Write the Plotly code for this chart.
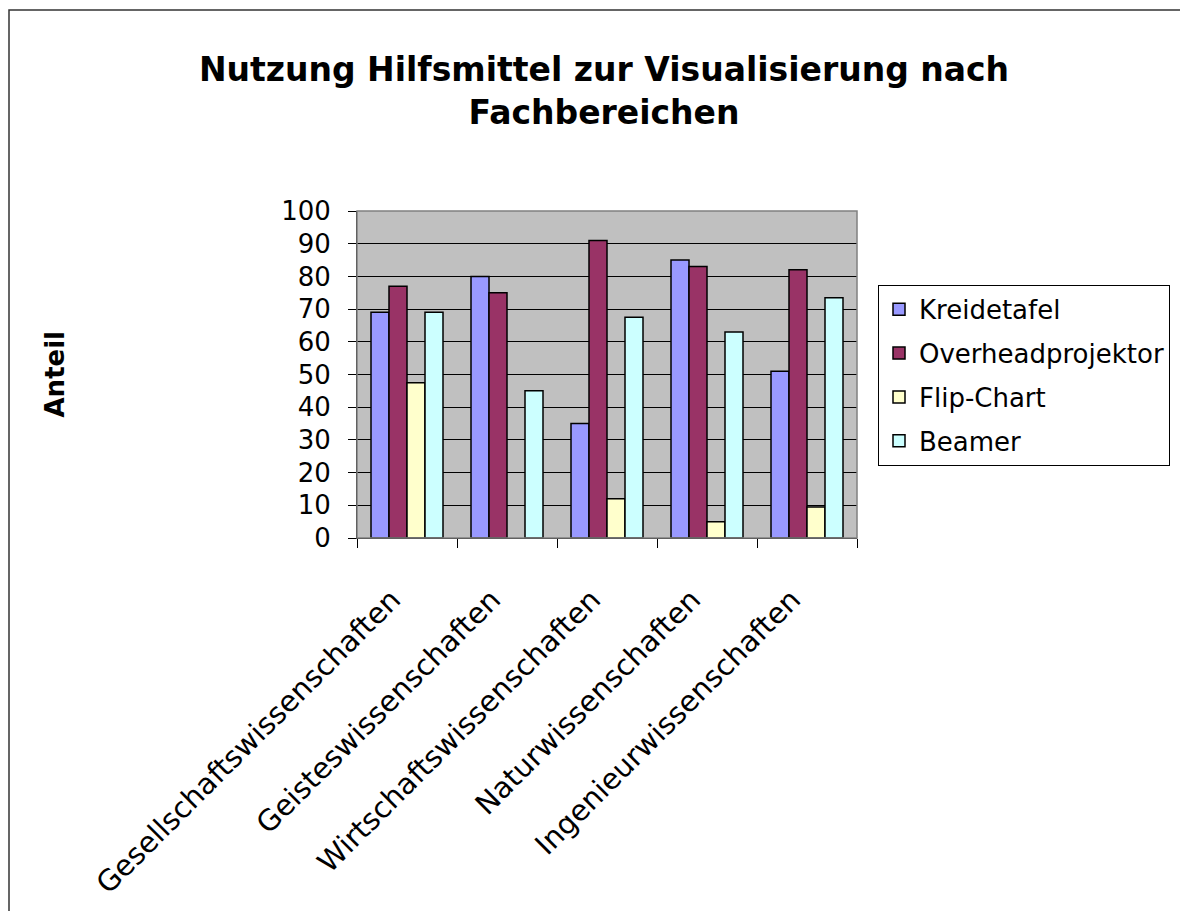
import plotly.graph_objects as go

categories = [
    "Gesellschaftswissenschaften",
    "Geisteswissenschaften",
    "Wirtschaftswissenschaften",
    "Naturwissenschaften",
    "Ingenieurwissenschaften",
]

kreidetafel = [69, 80, 35, 85, 51]
overheadprojektor = [77, 75, 91, 83, 82]
flip_chart = [47.5, None, 12, 5, 9.5]
beamer = [69, 45, 67.5, 63, 73.5]

series = [
    ("Kreidetafel", kreidetafel, "#9999FF"),
    ("Overheadprojektor", overheadprojektor, "#993366"),
    ("Flip-Chart", flip_chart, "#FFFFCC"),
    ("Beamer", beamer, "#CCFFFF"),
]

FONT = "DejaVu Sans"

fig = go.Figure()
for name, values, color in series:
    fig.add_trace(
        go.Bar(
            x=categories,
            y=values,
            name=name,
            legendgroup=name,
            marker=dict(color=color, line=dict(color="black", width=1.5)),
        )
    )

shapes = [
    # plot area border (gray, Excel style)
    dict(type="rect", xref="paper", yref="paper", x0=0, x1=1, y0=0, y1=1,
         line=dict(color="#808080", width=1.5), layer="above"),
    # outer chart frame
    dict(type="rect", xref="paper", yref="paper", x0=-0.696, x1=1.7, y0=-1.2, y1=1.615,
         line=dict(color="#333333", width=1.5)),
]

annotations = [
    dict(text="<b>Anteil</b>", xref="paper", yref="paper", x=-0.606, y=0.5,
         xanchor="center", yanchor="middle", textangle=-90, showarrow=False,
         font=dict(family=FONT, size=26, color="black")),
]

fig.update_layout(
    width=1188,
    height=911,
    paper_bgcolor="white",
    plot_bgcolor="#C0C0C0",
    margin=dict(l=349, r=339, t=203, b=381, autoexpand=False),
    font=dict(family=FONT, size=26, color="black"),
    title=dict(
        text="<b>Nutzung Hilfsmittel zur Visualisierung nach<br>Fachbereichen</b>",
        x=0.494, xref="paper", xanchor="center",
        y=0.92, yref="container", yanchor="top",
        font=dict(family=FONT, size=33, color="black"),
    ),
    barmode="group",
    bargap=0.28,
    bargroupgap=0,
    showlegend=True,
    legend=dict(
        x=1.042, y=0.774, xanchor="left", yanchor="top",
        bgcolor="white", bordercolor="black", borderwidth=1,
        font=dict(family=FONT, size=26, color="black"),
        tracegroupgap=7,
    ),
    shapes=shapes,
    annotations=annotations,
)

fig.update_xaxes(
    type="category",
    tickson="boundaries",
    ticks="outside",
    ticklen=9,
    tickcolor="black",
    tickangle=-45,
    tickfont=dict(family=FONT, size=29, color="black"),
    showline=True,
    linecolor="black",
    linewidth=1,
    showgrid=False,
    automargin=False,
    ticklabelstandoff=32,
    ticklabelshift=-15,
)

fig.update_yaxes(
    range=[0, 100],
    dtick=10,
    ticks="outside",
    ticklen=8,
    tickcolor="black",
    showline=True,
    linecolor="black",
    linewidth=1,
    showgrid=True,
    gridcolor="black",
    gridwidth=1,
    zeroline=False,
    automargin=False,
    ticklabelstandoff=12,
)

fig.write_html("out.html")
